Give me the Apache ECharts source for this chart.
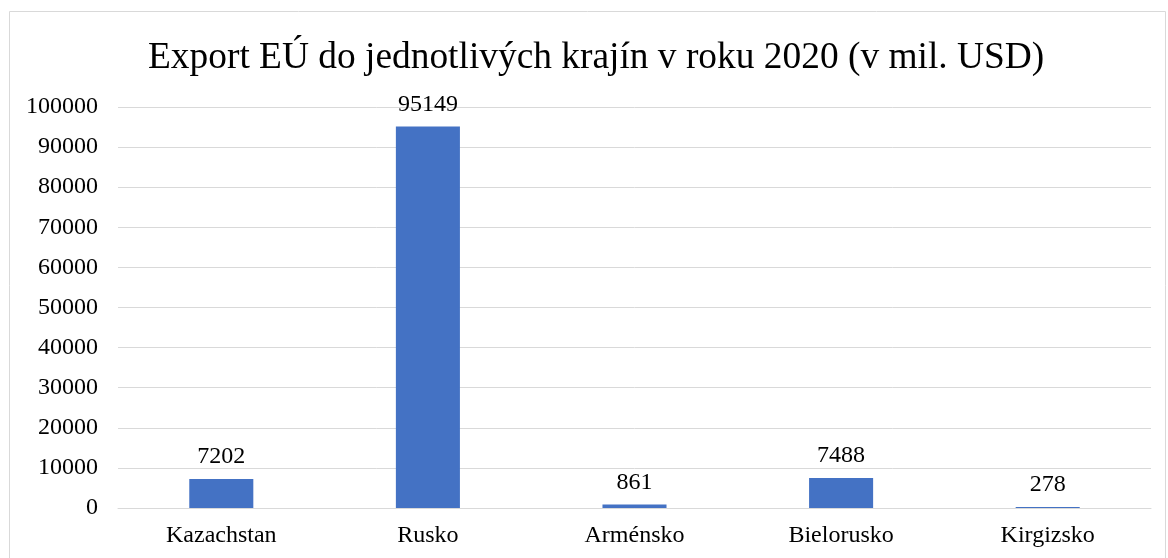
<!DOCTYPE html>
<html>
<head>
<meta charset="utf-8">
<script src="https://cdn.jsdelivr.net/npm/echarts@6/dist/echarts.min.js"></script>
<style>
  html, body { margin: 0; padding: 0; background: #fff; }
  #chart { width: 1168px; height: 558px; }
</style>
</head>
<body>
<div id="chart"></div>
<script>
const categories = ['Kazachstan', 'Rusko', 'Arménsko', 'Bielorusko', 'Kirgizsko']
const exportValues = [7202, 95149, 861, 7488, 278]

const chart = echarts.init(document.getElementById('chart'))
const serif = '"Liberation Serif", "Times New Roman", serif'

chart.setOption({
  animation: false,
  title: {
    text: 'Export EÚ do jednotlivých krajín v roku 2020 (v mil. USD)',
    left: 143,
    top: 35,
    textStyle: {
      fontFamily: serif,
      fontSize: 37.4,
      fontWeight: 'normal',
      color: '#000'
    }
  },
  graphic: [{
    type: 'rect',
    shape: { x: 9.5, y: 11.5, width: 1156, height: 560 },
    style: { fill: 'none', stroke: '#d9d9d9', lineWidth: 1 },
    silent: true
  }],
  grid: {
    left: 118,
    right: 17,
    top: 107,
    bottom: 50
  },
  xAxis: {
    type: 'category',
    data: categories,
    axisLine: { show: true, lineStyle: { color: '#d9d9d9' } },
    axisTick: { show: false },
    axisLabel: {
      fontFamily: serif,
      fontSize: 24,
      color: '#000',
      margin: 16
    }
  },
  yAxis: {
    type: 'value',
    min: 0,
    max: 100000,
    interval: 10000,
    axisLine: { show: false },
    axisTick: { show: false },
    axisLabel: {
      fontFamily: serif,
      fontSize: 24,
      color: '#000',
      margin: 20,
      formatter: v => String(v)
    },
    splitLine: { lineStyle: { color: '#d9d9d9' } }
  },
  series: [{
    type: 'bar',
    data: exportValues,
    barWidth: '31%',
    itemStyle: { color: '#4472c4' },
    label: {
      show: true,
      position: 'top',
      distance: 10,
      fontFamily: serif,
      fontSize: 24,
      color: '#000'
    }
  }]
})
</script>
</body>
</html>
